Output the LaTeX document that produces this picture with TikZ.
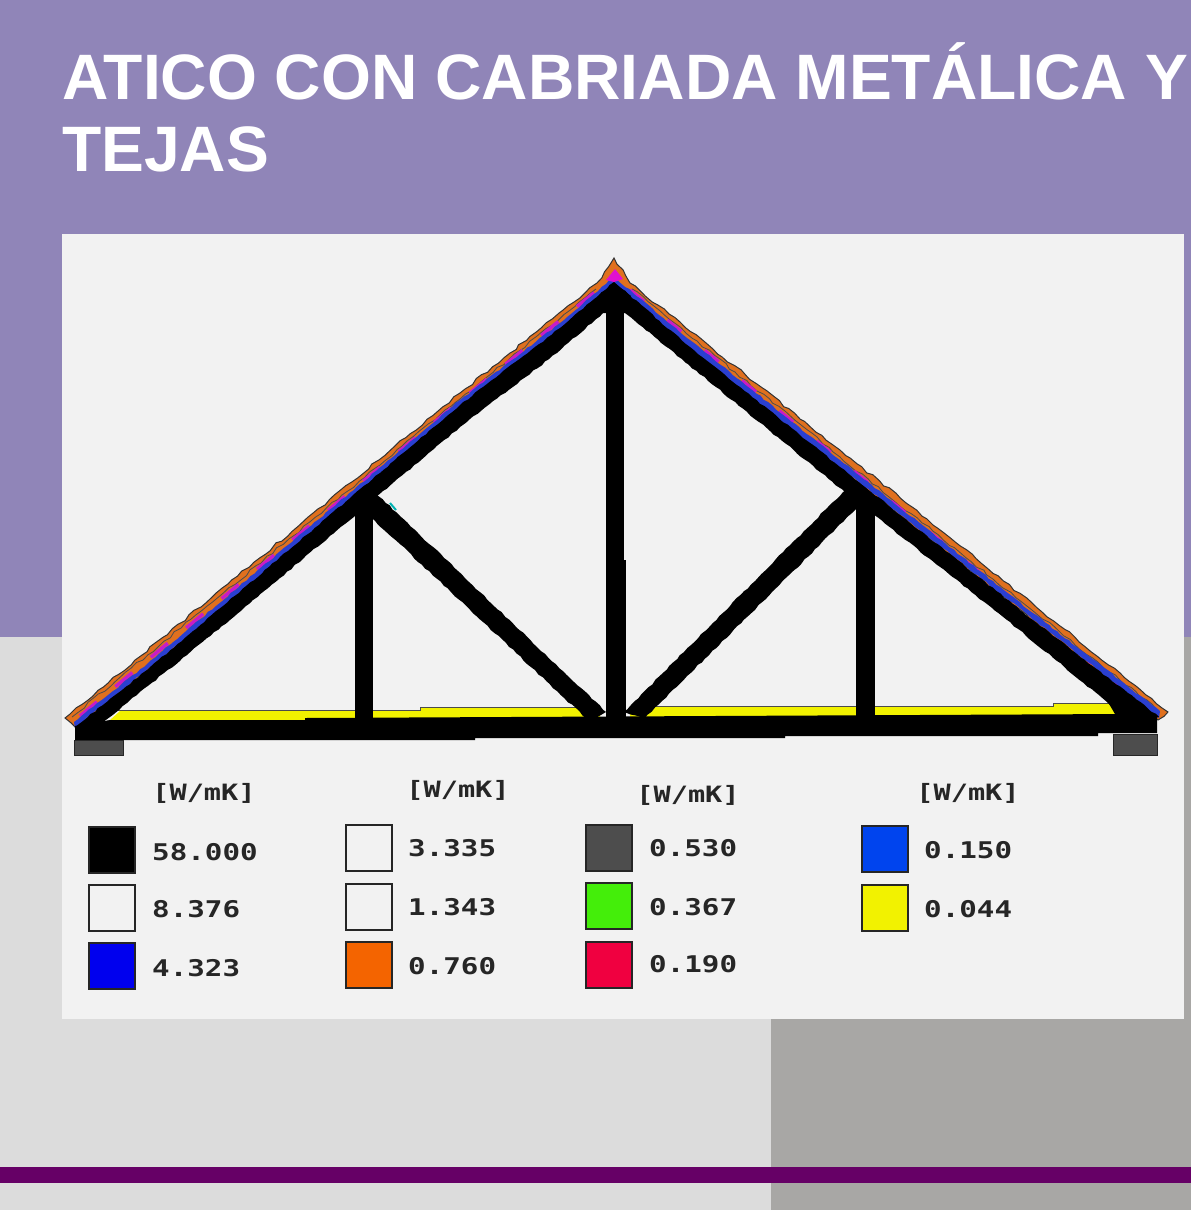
\documentclass[tikz,border=0pt]{standalone}
\usepackage{fontspec}
\setmainfont{Liberation Sans}
\newfontfamily\legfont[FakeStretch=1.27]{DejaVu Sans Mono Bold}
\usetikzlibrary{decorations.pathmorphing}
\definecolor{purplebg}{HTML}{9085B8}
\definecolor{lightbg}{HTML}{DCDCDC}
\definecolor{darkbg}{HTML}{A8A7A5}
\definecolor{panel}{HTML}{F2F2F2}
\definecolor{bar}{HTML}{660066}
\definecolor{tile}{HTML}{E0701E}
\definecolor{roofblue}{HTML}{2A3FD0}
\definecolor{roofmag}{HTML}{C81CC8}
\definecolor{apexmag}{HTML}{E010D0}
\definecolor{support}{HTML}{4D4D4D}
\definecolor{swgreen}{HTML}{44EE0A}
\definecolor{swred}{HTML}{F00040}
\definecolor{swblue}{HTML}{0044EE}
\definecolor{swnavy}{HTML}{0000EE}
\definecolor{sworange}{HTML}{F46400}
\definecolor{swyellow}{HTML}{F2F200}
\definecolor{insul}{HTML}{F2F200}
\tikzset{
  x=1pt,y=-1pt,
  titletext/.style={inner sep=0pt,anchor=north west,align=left,text=white,font=\fontsize{64.2}{72}\selectfont\bfseries},
  swatch/.style={draw=black!85,line width=2pt,minimum width=46pt,minimum height=46pt,inner sep=0pt,anchor=north west},
  valtext/.style={inner sep=0pt,anchor=west,yshift=0.5pt,text=black!85,font=\legfont\fontsize{23}{23}\selectfont},
  headtext/.style={inner sep=0pt,anchor=center,yshift=0.5pt,text=black!85,font=\legfont\fontsize{22.5}{22}\selectfont},
  rough/.style={decorate,decoration={random steps,segment length=5pt,amplitude=0.7pt}},
  tilerough/.style={decorate,decoration={random steps,segment length=7pt,amplitude=1.3pt}},
  member/.style={fill=black,rough},
}
\begin{document}
\begin{tikzpicture}
\useasboundingbox (0,0) rectangle (1191,1210);
% background
\fill[lightbg] (0,0) rectangle (1191,1210);
\fill[darkbg] (771,1019) rectangle (1191,1210);
\fill[darkbg] (1184,637) rectangle (1191,1019);
\fill[purplebg] (0,0) rectangle (1191,637);
\fill[bar] (0,1167) rectangle (1191,1183);
\fill[panel] (62,234) rectangle (1184,1019);
\node[titletext] (title) at (62,42) {ATICO CON CABRIADA METÁLICA Y\\TEJAS};
% roof tiles
\filldraw[fill=tile,draw=black!80,line width=1pt,tilerough]
  (65,718) -- (460,393) -- (597,283) -- (614,258) -- (630,283) -- (840,450) -- (1168,712) -- (1158,720) -- (614,290) -- (76,728) -- cycle;
% dark lower line of the tiles
\draw[black!70,line width=.8pt,tilerough] (72,717) -- (460,399) -- (596,289);
\draw[black!70,line width=.8pt,tilerough] (632,289) -- (840,457) -- (1155,708);
% magenta patches
\draw[roofmag,line width=3.5pt,dash pattern=on 22pt off 24pt] (80,716) -- (460,401) -- (600,288);
\draw[roofmag,line width=3.5pt,dash pattern=on 18pt off 30pt] (630,290) -- (840,460) -- (1150,710);
% blue layer
\fill[roofblue,rough] (75,728) -- (74,722) -- (147,664) -- (460,400) -- (560,323) -- (614,277)
  -- (690,340) -- (840,460) -- (1033,613) -- (1160,711) -- (1159,718) -- (614,290) -- cycle;
\fill[apexmag] (606,280) -- (615,269) -- (623,279) -- (614,282) -- cycle;
% insulation
\fill[insul] (110,720) -- (120,711) -- (305,711) -- (305,720) -- cycle;
\fill[insul] (305,711) -- (420,711) -- (420,708) -- (600,708) -- (600,720) -- (305,720) -- cycle;
\fill[insul] (630,707) -- (1053,707) -- (1053,704) -- (1112,704) -- (1122,715) -- (630,718) -- cycle;
\draw[black!70,line width=1pt] (118,710.5) -- (420,710.5) -- (420,707.5) -- (600,707.5);
\draw[black!70,line width=1pt] (630,706.5) -- (1053,706.5) -- (1053,703.5) -- (1112,703.5);
% steel members
\fill[black] (606,290) rectangle (624,560);
\fill[black] (606,560) rectangle (626,730);
\fill[black] (355,505) rectangle (373,725);
\fill[black] (856,500) rectangle (875,725);
\fill[member] (375,492) -- (606,712) -- (590,722) -- (360,507) -- cycle;
\fill[member] (855,480) -- (872,493) -- (645,718) -- (624,712) -- cycle;
\fill[member] (75,727) -- (147,670) -- (460,405) -- (560,328) -- (614,282) -- (603,313) -- (557,353)
  -- (460,427) -- (230,620) -- (127,703) -- (100,725) -- cycle;
\fill[member] (614,282) -- (690,347) -- (840,467) -- (1033,620) -- (1159,717) -- (1120,722) -- (1107,702)
  -- (1007,620) -- (840,488) -- (625,313) -- cycle;
\fill[black] (614,282.5) -- (597,297) -- (603,313) -- (625,313) -- (631,296) -- cycle;
% bottom chord
\fill[black] (75,726) -- (110,720) -- (305,720) -- (305,718) -- (1122,714) -- (1157,716) -- (1157,733)
  -- (1098,733) -- (1098,736) -- (785,736) -- (785,738) -- (475,738) -- (475,740) -- (75,740) -- cycle;
% small teal mark
\draw[teal!60!cyan,line width=2pt] (390,503) -- (396,510);
% supports
\filldraw[fill=support,draw=black!85,line width=1pt] (74,740) rectangle (123,755);
\filldraw[fill=support,draw=black!85,line width=1pt] (1113,734) rectangle (1157,755);
% legend headers
\node[headtext] (h1) at (204,794) {[W/mK]};
\node[headtext] (h2) at (458,791) {[W/mK]};
\node[headtext] (h3) at (688,796) {[W/mK]};
\node[headtext] (h4) at (968,794) {[W/mK]};
% column 1
\node[swatch,fill=black] (s1) at (88,826) {};
\node[swatch,fill=panel] (s2) at (88,884) {};
\node[swatch,fill=swnavy] (s3) at (88,942) {};
\node[valtext] (v1) at (152,853) {58.000};
\node[valtext] (v2) at (152,910) {8.376};
\node[valtext] (v3) at (152,969) {4.323};
% column 2
\node[swatch,fill=panel] (s4) at (345,824) {};
\node[swatch,fill=panel] (s5) at (345,883) {};
\node[swatch,fill=sworange] (s6) at (345,941) {};
\node[valtext] (v4) at (408,849) {3.335};
\node[valtext] (v5) at (408,908) {1.343};
\node[valtext] (v6) at (408,967) {0.760};
% column 3
\node[swatch,fill=support] (s7) at (585,824) {};
\node[swatch,fill=swgreen] (s8) at (585,882) {};
\node[swatch,fill=swred] (s9) at (585,941) {};
\node[valtext] (v7) at (649,849) {0.530};
\node[valtext] (v8) at (649,908) {0.367};
\node[valtext] (v9) at (649,965) {0.190};
% column 4
\node[swatch,fill=swblue] (s10) at (861,825) {};
\node[swatch,fill=swyellow] (s11) at (861,884) {};
\node[valtext] (v10) at (924,851) {0.150};
\node[valtext] (v11) at (924,910) {0.044};
\end{tikzpicture}
\end{document}
